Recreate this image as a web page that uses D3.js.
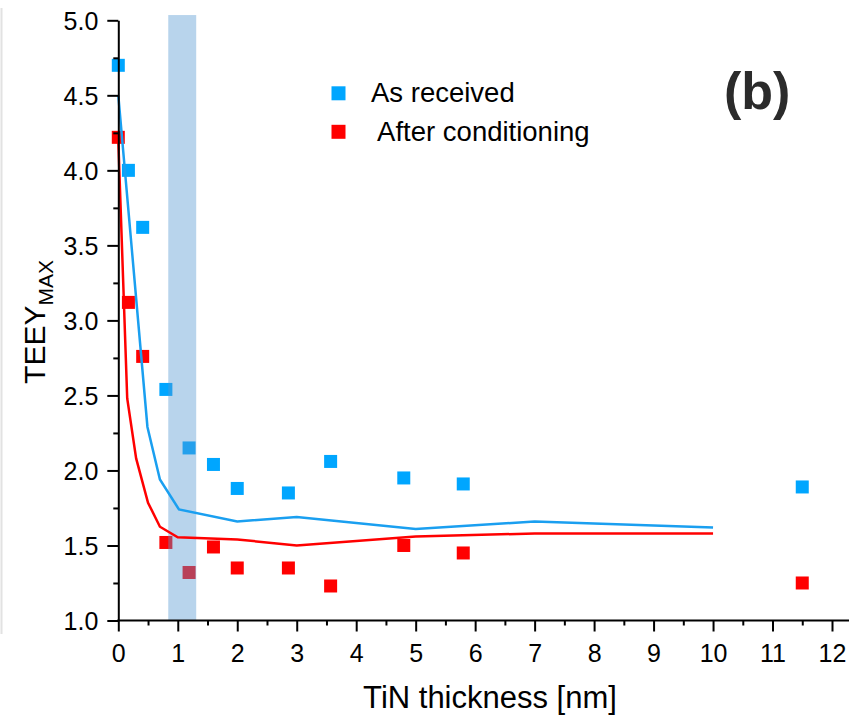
<!DOCTYPE html>
<html>
<head>
<meta charset="utf-8">
<script src="https://cdn.jsdelivr.net/npm/d3@7"></script>
<style>
  body { margin: 0; background: #fff; }
  svg { display: block; font-family: "Liberation Sans", Arial, sans-serif; }
  .axis path, .axis line { stroke: #000; stroke-width: 2; }
  .axis text { fill: #000; font-size: 25px; font-family: "Liberation Sans", Arial, sans-serif; }
</style>
</head>
<body>
<svg id="chart" width="849" height="716"></svg>
<script>
// thickness [nm] and TEEY max
const thickness = [0, 0.17, 0.41, 0.8, 1.19, 1.6, 2.0, 2.86, 3.57, 4.8, 5.8, 11.5];
const asReceived = [4.70, 4.00, 3.62, 2.54, 2.15, 2.04, 1.88, 1.85, 2.06, 1.95, 1.91, 1.89];
const afterCond = [4.22, 3.12, 2.76, 1.52, 1.32, 1.49, 1.35, 1.35, 1.23, 1.50, 1.45, 1.25];

// fitted curves
const fitBlueX = [0, 0.49, 0.7, 1.02, 2, 3, 5, 7, 10];
const fitBlueY = [4.5, 2.29, 1.94, 1.74, 1.66, 1.69, 1.61, 1.66, 1.62];
const fitRedX = [0, 0.15, 0.3, 0.5, 0.7, 1.0, 2, 3, 5, 7, 10];
const fitRedY = [4.2, 2.48, 2.08, 1.785, 1.625, 1.555, 1.54, 1.50, 1.56, 1.58, 1.58];

const band = [0.84, 1.31];       // shaded thickness range
const bandTop = 5.035;
const xTicks = d3.range(0, 13, 1);
const yTicks = [1.0, 1.5, 2.0, 2.5, 3.0, 3.5, 4.0, 4.5, 5.0];

const blue = "#00a6ff", blueLine = "#1a9ff0", red = "#ff0000";

const svg = d3.select("#chart");
const x = d3.scaleLinear().domain([0, 12]).range([118.3, 832]);
const y = d3.scaleLinear().domain([1, 5]).range([620.5, 20.3]);

// faint frame edge on the left
svg.append("line").attr("x1", 1.5).attr("x2", 1.5).attr("y1", 8).attr("y2", 634)
    .attr("stroke", "#e2e2e2").attr("stroke-width", 2);

// markers
const sq = 13;
function squares(vals, color) {
    svg.append("g").selectAll("rect")
        .data(thickness.map((t, i) => [t, vals[i]]))
        .join("rect")
        .attr("x", d => x(d[0]) - sq / 2)
        .attr("y", d => y(d[1]) - sq / 2)
        .attr("width", sq).attr("height", sq)
        .attr("fill", color);
}
squares(asReceived, blue);
squares(afterCond, red);

// shaded band (over the markers)
svg.append("rect")
    .attr("x", x(band[0])).attr("width", x(band[1]) - x(band[0]))
    .attr("y", y(bandTop)).attr("height", y(1) - y(bandTop))
    .attr("fill", "rgb(86,152,210)").attr("fill-opacity", 0.42);

// fit lines
const line = d3.line().x(d => x(d[0])).y(d => y(d[1]));
svg.append("path").datum(fitBlueX.map((v, i) => [v, fitBlueY[i]]))
    .attr("d", line).attr("fill", "none").attr("stroke", blueLine).attr("stroke-width", 2.5);
svg.append("path").datum(fitRedX.map((v, i) => [v, fitRedY[i]]))
    .attr("d", line).attr("fill", "none").attr("stroke", red).attr("stroke-width", 2.5);

// axes: minor ticks first, then major
svg.append("g").attr("class", "axis").attr("transform", `translate(0,${y(1)})`)
    .call(d3.axisBottom(x).tickValues(d3.range(0.5, 12, 1)).tickSize(5).tickFormat(""))
    .call(g => g.select(".domain").remove());
svg.append("g").attr("class", "axis").attr("transform", `translate(${x(0)},0)`)
    .call(d3.axisLeft(y).tickValues(d3.range(1.25, 5, 0.5)).tickSize(5).tickFormat(""))
    .call(g => g.select(".domain").remove());

svg.append("g").attr("class", "axis").attr("transform", `translate(0,${y(1)})`)
    .call(d3.axisBottom(x).tickValues(xTicks).tickSize(11).tickSizeOuter(0).tickPadding(13).tickFormat(d3.format("d")))
    .call(g => g.select(".domain").remove())
    .call(g => g.append("line").attr("x1", x(0) - 1).attr("x2", 849).attr("stroke", "#000").attr("stroke-width", 2));
svg.append("g").attr("class", "axis").attr("transform", `translate(${x(0)},0)`)
    .call(d3.axisLeft(y).tickValues(yTicks).tickSize(11).tickSizeOuter(0).tickPadding(9).tickFormat(d3.format(".1f")))
    .call(g => g.selectAll(".tick text").attr("dy", "0.36em"));

// axis titles
svg.append("text").attr("x", 490).attr("y", 708).attr("text-anchor", "middle")
    .attr("font-size", 31).text("TiN thickness [nm]");
const yt = svg.append("text").attr("transform", "translate(45,322) rotate(-90)")
    .attr("text-anchor", "middle").attr("font-size", 30);
yt.append("tspan").text("TEEY");
yt.append("tspan").attr("font-size", 21).attr("dy", 8).text("MAX");

// legend
const legend = [["As received", blue], [" After conditioning", red]];
legend.forEach(([label, color], i) => {
    const cy = 93.3 + i * 38.5;
    svg.append("rect").attr("x", 338.5 - 7).attr("y", cy - 7).attr("width", 14).attr("height", 14).attr("fill", color);
    svg.append("text").attr("x", 371).attr("y", cy + 9).attr("font-size", 27.5)
        .attr("xml:space", "preserve").style("white-space", "pre").text(label);
});

// panel label
svg.append("text").attr("x", 724).attr("y", 109).attr("font-size", 52).attr("font-weight", "bold")
    .attr("fill", "#2b2b2b").text("(b)");
</script>
</body>
</html>
